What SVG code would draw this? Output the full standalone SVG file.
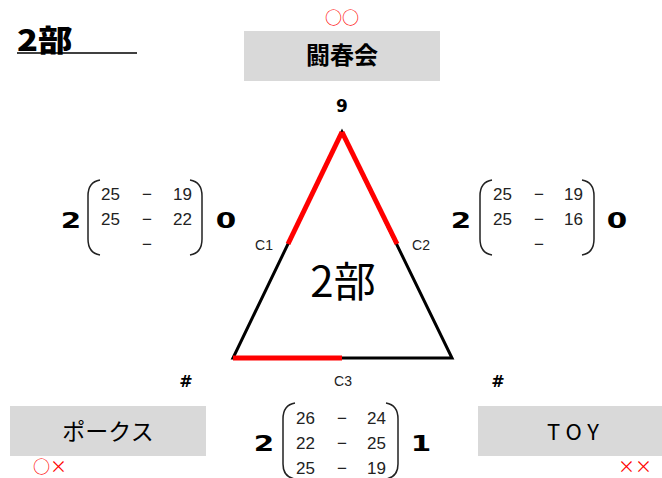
<svg xmlns="http://www.w3.org/2000/svg" width="662" height="478" viewBox="0 0 662 478">
<defs>
<style>
.box{fill:#d9d9d9}
.jp{font-family:"Noto Sans CJK JP","Noto Sans",sans-serif;text-anchor:middle;fill:#000}
.num{font-family:"Liberation Sans",Arial,sans-serif;font-size:17px;fill:#222}
.big{font-family:"DejaVu Sans","Liberation Sans",sans-serif;font-weight:bold;font-size:21px;text-anchor:middle;fill:#000}
.red{font-family:"Noto Sans CJK JP",sans-serif;fill:#f00;text-anchor:middle;font-size:17px}
.lbl{font-family:"Liberation Sans",Arial,sans-serif;font-size:14px;text-anchor:middle;fill:#222}
.br{fill:none;stroke:#222;stroke-width:1.5}
</style>
</defs>
<rect width="662" height="478" fill="#fff"/>
<g id="title">
<text transform="translate(17,51) scale(1.15,1)" style="font-family:'Noto Sans CJK JP',sans-serif;font-weight:900;font-size:30px">2部</text>
<line x1="17" y1="53" x2="137" y2="53" stroke="#000" stroke-width="1.5"/>
</g>
<g id="connectors">
<polygon points="342,132 233,358 452,358" fill="none" stroke="#000" stroke-width="3" stroke-linejoin="miter"/>
<line x1="342" y1="132" x2="288" y2="244" stroke="#f00" stroke-width="5"/>
<line x1="342" y1="132" x2="397" y2="244" stroke="#f00" stroke-width="5"/>
<line x1="233" y1="358" x2="342" y2="358" stroke="#f00" stroke-width="5"/>
<text class="lbl" x="264" y="250">C1</text>
<text class="lbl" x="421" y="250">C2</text>
<text class="lbl" x="343" y="386">C3</text>
<text x="343" y="297" class="jp" style="font-size:42px">2部</text>
</g>
<g id="node-top">
<text class="red" x="342" y="24">○○</text>
<rect class="box" x="244" y="31" width="196" height="50"/>
<text class="jp" x="342" y="64" style="font-size:24px;font-weight:bold">闘春会</text>
<text class="big" x="342" y="112" style="font-size:17px">9</text>
</g>
<g id="node-left">
<text class="big" x="186" y="387" style="font-size:16px">#</text>
<rect class="box" x="10" y="406" width="196" height="50"/>
<text class="jp" x="108" y="440" style="font-size:23px">ポークス</text>
<text class="red" x="50" y="473">○×</text>
</g>
<g id="node-right">
<text class="big" x="498" y="387" style="font-size:16px">#</text>
<rect class="box" x="478" y="406" width="184" height="50"/>
<text class="jp" x="576" y="440" style="font-size:22px;letter-spacing:6px">TOY</text>
<text class="red" x="635" y="473">××</text>
</g>
<g id="score-left">
<text class="big" transform="translate(71,228) scale(1.4,1)">2</text>
<path class="br" d="M100,180 Q88,182 88,196 L88,239 Q88,253 100,255"/>
<text class="num" x="101" y="200">25</text>
<text class="num" x="101" y="225">25</text>
<text class="num" x="147" y="200" text-anchor="middle">−</text>
<text class="num" x="147" y="225" text-anchor="middle">−</text>
<text class="num" x="147" y="250" text-anchor="middle">−</text>
<text class="num" x="192" y="200" text-anchor="end">19</text>
<text class="num" x="192" y="225" text-anchor="end">22</text>
<path class="br" d="M190,180 Q202,182 202,196 L202,239 Q202,253 190,255"/>
<text class="big" transform="translate(226,228) scale(1.4,1)">0</text>
</g>
<g id="score-right">
<text class="big" transform="translate(461,228) scale(1.4,1)">2</text>
<path class="br" d="M492,180 Q480,182 480,196 L480,239 Q480,253 492,255"/>
<text class="num" x="493" y="200">25</text>
<text class="num" x="493" y="225">25</text>
<text class="num" x="539" y="200" text-anchor="middle">−</text>
<text class="num" x="539" y="225" text-anchor="middle">−</text>
<text class="num" x="539" y="250" text-anchor="middle">−</text>
<text class="num" x="583" y="200" text-anchor="end">19</text>
<text class="num" x="583" y="225" text-anchor="end">16</text>
<path class="br" d="M582,180 Q594,182 594,196 L594,239 Q594,253 582,255"/>
<text class="big" transform="translate(617,228) scale(1.4,1)">0</text>
</g>
<g id="score-bottom">
<text class="big" transform="translate(264,451) scale(1.4,1)">2</text>
<path class="br" d="M295,403 Q283,405 283,419 L283,464 Q283,477 295,479"/>
<text class="num" x="296" y="424">26</text>
<text class="num" x="296" y="449">22</text>
<text class="num" x="296" y="474">25</text>
<text class="num" x="342" y="424" text-anchor="middle">−</text>
<text class="num" x="342" y="449" text-anchor="middle">−</text>
<text class="num" x="342" y="474" text-anchor="middle">−</text>
<text class="num" x="386" y="424" text-anchor="end">24</text>
<text class="num" x="386" y="449" text-anchor="end">25</text>
<text class="num" x="386" y="474" text-anchor="end">19</text>
<path class="br" d="M386,403 Q398,405 398,419 L398,464 Q398,477 386,479"/>
<text class="big" transform="translate(421,451) scale(1.4,1)">1</text>
</g>
</svg>
